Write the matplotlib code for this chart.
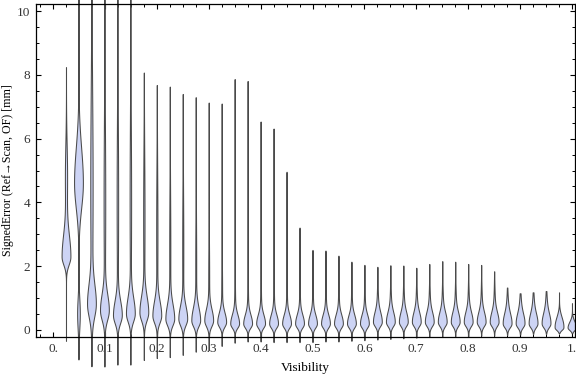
import numpy as np
import matplotlib
matplotlib.use("Agg")
import matplotlib.pyplot as plt
from matplotlib.ticker import MultipleLocator

# ---- data ----
visibility = [0.025, 0.05, 0.075, 0.1, 0.125, 0.15, 0.175, 0.2, 0.225, 0.25,
              0.275, 0.3, 0.325, 0.35, 0.375, 0.4, 0.425, 0.45, 0.475, 0.5,
              0.525, 0.55, 0.575, 0.6, 0.625, 0.65, 0.675, 0.7, 0.725, 0.75,
              0.775, 0.8, 0.825, 0.85, 0.875, 0.9, 0.925, 0.95, 0.975, 1.0]
err_max = [8.24, 11.0, 11.0, 11.0, 11.0, 11.0, 8.07, 7.68, 7.63, 7.40,
           7.30, 7.13, 7.10, 7.86, 7.80, 6.53, 6.31, 4.96, 3.21, 2.51,
           2.49, 2.33, 2.14, 2.04, 1.98, 2.03, 2.02, 1.95, 2.07, 2.16,
           2.14, 2.07, 2.04, 1.84, 1.33, 1.15, 1.18, 1.22, 1.18, 0.84]
err_min = [-0.34, -0.94, -1.15, -1.16, -1.10, -1.10, -0.94, -0.88, -0.85, -0.78,
           -0.68, -0.63, -0.50, -0.40, -0.36, -0.36, -0.38, -0.38, -0.38, -0.38,
           -0.36, -0.36, -0.34, -0.32, -0.30, -0.28, -0.26, -0.24, -0.22, -0.22,
           -0.20, -0.20, -0.18, -0.18, -0.16, -0.14, -0.12, -0.12, -0.10, -0.10]
# main mode of each distribution and its spread below / above
err_mode = [2.30, 4.60, 0.80, 0.60, 0.45, 0.50, 0.55, 0.45, 0.35, 0.35,
            0.30, 0.30, 0.25, 0.20, 0.20, 0.20, 0.20, 0.20, 0.20, 0.20,
            0.20, 0.20, 0.20, 0.20, 0.25, 0.25, 0.25, 0.25, 0.25, 0.25,
            0.25, 0.25, 0.25, 0.25, 0.20, 0.20, 0.20, 0.20, 0.08, 0.08]
spread_lo = [0.25, 0.80, 0.40, 0.30, 0.25, 0.25, 0.25, 0.22, 0.20, 0.20,
             0.18, 0.18, 0.15, 0.13, 0.13, 0.13, 0.13, 0.13, 0.13, 0.13,
             0.13, 0.13, 0.13, 0.13, 0.13, 0.13, 0.13, 0.13, 0.13, 0.13,
             0.13, 0.13, 0.13, 0.13, 0.12, 0.12, 0.12, 0.12, 0.08, 0.08]
spread_hi = [0.70, 1.10, 0.60, 0.50, 0.45, 0.50, 0.50, 0.45, 0.45, 0.40,
             0.40, 0.35, 0.30, 0.28, 0.28, 0.28, 0.28, 0.28, 0.28, 0.28,
             0.28, 0.28, 0.28, 0.28, 0.30, 0.30, 0.30, 0.30, 0.30, 0.30,
             0.30, 0.30, 0.30, 0.30, 0.30, 0.30, 0.30, 0.30, 0.25, 0.18]
# secondary (broad) component: location, spread, relative weight
sec_mode = [4.8, 0.5, 4.5, 4.0, 4.0, 4.0, 3.5, 3.0, 2.5, 2.5,
            2.0, 1.5, 1.2, 0.9, 0.9, 0.9, 0.9, 0.9, 0.9, 0.9,
            0.9, 0.9, 0.9, 0.9, 0.8, 0.8, 0.8, 0.8, 0.8, 0.8,
            0.8, 0.8, 0.8, 0.8, 0.7, 0.7, 0.7, 0.7, 0.4, 0.4]
sec_spread = [1.0, 0.5, 3.0, 2.5, 2.5, 2.5, 2.0, 2.0, 1.8, 1.8,
              1.5, 1.2, 0.8, 0.6, 0.6, 0.6, 0.6, 0.6, 0.6, 0.6,
              0.6, 0.6, 0.6, 0.6, 0.5, 0.5, 0.5, 0.5, 0.5, 0.5,
              0.5, 0.5, 0.5, 0.5, 0.4, 0.4, 0.4, 0.4, 0.2, 0.2]
sec_weight = [0.25, 0.30, 0.30, 0.20, 0.18, 0.18, 0.16, 0.15, 0.13, 0.13,
              0.11, 0.11, 0.10, 0.10, 0.10, 0.10, 0.10, 0.10, 0.10, 0.10,
              0.10, 0.10, 0.10, 0.10, 0.15, 0.15, 0.15, 0.15, 0.15, 0.15,
              0.15, 0.15, 0.15, 0.15, 0.20, 0.20, 0.20, 0.20, 0.20, 0.00]

xtick_vals = [0.0, 0.1, 0.2, 0.3, 0.4, 0.5, 0.6, 0.7, 0.8, 0.9, 1.0]
xtick_labels = ["0.", "0.1", "0.2", "0.3", "0.4", "0.5", "0.6", "0.7", "0.8", "0.9", "1."]
ytick_vals = [0, 2, 4, 6, 8, 10]
ytick_labels = ["0", "2", "4", "6", "8", "10"]

# ---- figure ----
plt.rcParams['font.family'] = ['Liberation Serif', 'DejaVu Serif']
fig = plt.figure(figsize=(5.76, 3.77), dpi=100)
ax = fig.add_axes([36/576, 1-337/377, (575-36)/576, (337-4)/377])
ax.set_xlim(-0.0328, 1.0058)
ax.set_ylim(-0.22, 10.22)

FILL = '#cdd4f5'
EDGE = '#4a4a4a'
HALF_W = 0.0085

for i, xv in enumerate(visibility):
    y = np.linspace(err_min[i], err_max[i], 600)
    m, slo, shi = err_mode[i], spread_lo[i], spread_hi[i]
    s = np.where(y < m, slo, shi)
    d = np.exp(-0.5 * ((y - m) / s) ** 2)
    if sec_weight[i] > 0:
        d = d + sec_weight[i] * np.exp(-0.5 * ((y - sec_mode[i]) / sec_spread[i]) ** 2)
    w = HALF_W * d / d.max()
    ax.fill_betweenx(y, xv - w, xv + w, facecolor=FILL, edgecolor=EDGE,
                     linewidth=0.75, clip_on=False, zorder=2)

ax.set_xticks(xtick_vals)
ax.set_xticklabels(xtick_labels)
ax.set_yticks(ytick_vals)
ax.set_yticklabels(ytick_labels)
ax.xaxis.set_minor_locator(MultipleLocator(0.025))
ax.yaxis.set_minor_locator(MultipleLocator(0.5))
ax.tick_params(which='both', direction='in', top=True, right=True,
               labelsize=9.5, colors='black', labelcolor='#333333')
ax.tick_params(which='major', length=3.6, width=0.8, pad=4)
ax.tick_params(which='minor', length=2.2, width=0.7)
for sp in ax.spines.values():
    sp.set_linewidth(0.9)
    sp.set_zorder(5)

ax.set_xlabel("Visibility", fontsize=9.5, labelpad=5)
ax.set_ylabel("SignedError (Ref\u2192Scan, OF) [mm]", fontsize=8.6)
ax.yaxis.set_label_coords(-0.04, 0.5)

fig.savefig("out.png", dpi=100)
